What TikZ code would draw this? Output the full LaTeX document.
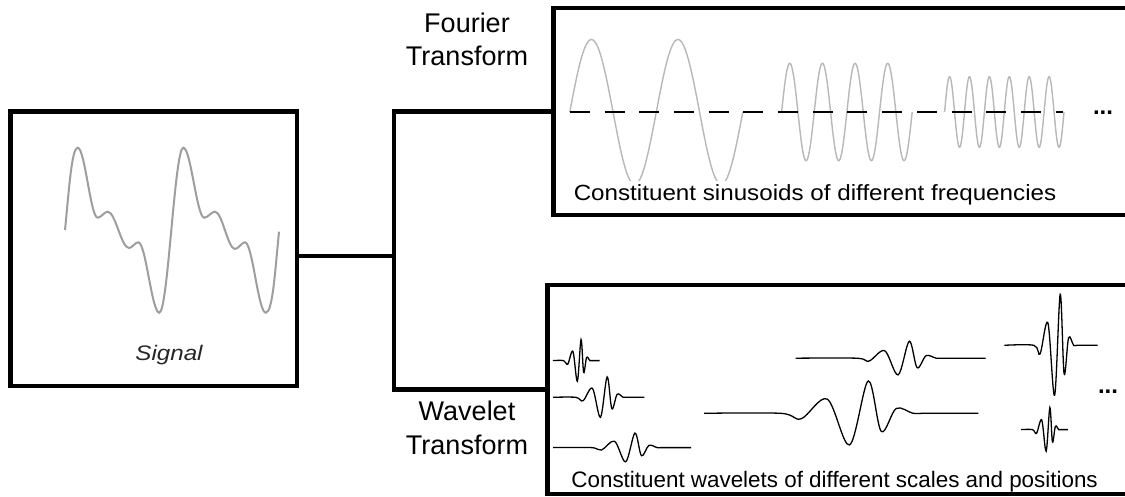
\documentclass[tikz,border=0pt]{standalone}
\usepackage{fontspec}
\setmainfont{Liberation Sans}
\usetikzlibrary{calc}
\definecolor{sinegray}{gray}{0.72}
\definecolor{siggray}{gray}{0.62}
\definecolor{txtdark}{gray}{0.15}
\newcommand{\wavelet}[6]{%
  \draw[wav] plot[smooth, tension=0.55] coordinates {(#5,#2) ({#1-4.2*#3},#2) ({#1-3.1*#3},{#2+0.17*#4}) ({#1-1.7*#3},{#2-0.44*#4}) ({#1-0.5*#3},{#2+0.98*#4}) ({#1+0.5*#3},{#2-1.0*#4}) ({#1+1.2*#3},{#2+0.56*#4}) ({#1+2.0*#3},{#2-0.15*#4}) ({#1+2.9*#3},#2) ({#1+3.6*#3},#2) (#6,#2)};}
\begin{document}
\begin{tikzpicture}[x=1pt,y=-1pt,
  box/.style={draw=black, line width=4.6pt, rectangle, inner sep=0pt, outer sep=0pt},
  conn/.style={draw=black, line width=4.6pt},
  sine/.style={draw=sinegray, line width=1.4pt},
  sig/.style={draw=siggray, line width=2pt},
  wav/.style={draw=black, line width=1.3pt},
  lbl/.style={inner sep=0pt, anchor=base, font=\fontsize{27}{32}\selectfont},
  dots/.style={inner sep=0pt, anchor=base, font=\fontsize{24}{28}\selectfont\bfseries},
]
\useasboundingbox (0,0) rectangle (1125,497);
\clip (0,0) rectangle (1125,497);
\fill[white] (0,0) rectangle (1125,497);

% boxes
\node[box, minimum width=286.5pt, minimum height=274.5pt] (signal) at (153.75,248.75) {};
\node[box, minimum width=586.7pt, minimum height=207pt] (fourier) at (846.65,111.5) {};
\node[box, minimum width=592.5pt, minimum height=209pt] (wavelet) at (843.75,389.5) {};

% connectors
\coordinate (j) at (394,256);
\coordinate (jt) at (394,111.5);
\coordinate (jb) at (394,389.5);
\draw[conn] (signal.east |- j) -- (j);
\draw[conn, line join=miter] (fourier.west) -- (jt) -- (jb) -- (wavelet.west);

% labels
\node[lbl] (ft1) at (467,33) {Fourier};
\node[lbl] (ft2) at (467,66) {Transform};
\node[lbl] (wt1) at (467,420) {Wavelet};
\node[lbl] (wt2) at (467,454) {Transform};

% signal
\draw[sig] (65,230) .. controls (69,190) and (71.7,147.7) .. (77.7,147.7)
  .. controls (84.9,147.7) and (90.5,217.7) .. (97.7,217.7)
  .. controls (101.3,217.7) and (104.1,211.7) .. (107.7,211.7)
  .. controls (115.4,211.7) and (121.3,248) .. (129,248)
  .. controls (132.35,248) and (134.95,242.3) .. (138.3,242.3)
  .. controls (145.86,242.3) and (151.74,312.7) .. (159.3,312.7)
  .. controls (167.94,312.7) and (174.66,147.7) .. (183.3,147.7)
  .. controls (190.86,147.7) and (196.74,217.7) .. (204.3,217.7)
  .. controls (208.15,217.7) and (211.15,211.7) .. (215,211.7)
  .. controls (222.2,211.7) and (227.8,249) .. (235,249)
  .. controls (238.6,249) and (241.4,242.3) .. (245,242.3)
  .. controls (252.45,242.3) and (258.25,312.7) .. (265.7,312.7)
  .. controls (272.7,312.7) and (275,271.7) .. (279,231.7);
\node[inner sep=0pt, anchor=base, text=txtdark] (siglbl) at (169,360) {\fontsize{21}{25}\selectfont\itshape\scalebox{1.15}[1]{Signal}};

% Fourier sinusoids
\begin{scope}
  \clip (560,0) rectangle (760,181);
  \draw[sine] plot[domain=569.8:742.8, samples=160] (\x, {112 - 72.5*sin((\x-569.8)/86.5*360)});
\end{scope}
\draw[sine] plot[domain=781.6:912.2, samples=200] (\x, {112 - 48.7*sin((\x-781.6)/32.65*360)});
\draw[sine] plot[domain=944.6:1064, samples=240] (\x, {112 - 35.3*sin((\x-944.6)/19.9*360)});
\draw[black, line width=1.3pt, dash pattern=on 20pt off 14.7pt] (569.8,112) -- (1063,112);
\node[dots] (fdots) at (1103,115) {...};
\node[inner sep=0pt, anchor=base] (fcap) at (815,201) {\fontsize{22}{26}\selectfont\scalebox{1.1}[1]{Constituent sinusoids of different frequencies}};

% wavelets
\wavelet{579.2}{360.6}{3.7}{21}{553}{599.7}
\wavelet{603.8}{397.3}{6.7}{20.4}{553}{644.4}
\wavelet{630.3}{447.6}{9.3}{14.5}{553}{691}
\wavelet{858.9}{413.3}{18.65}{32.3}{704}{978.3}
\wavelet{903.7}{358.2}{11.2}{17}{795.5}{985.7}
\wavelet{1057.4}{345.3}{5.6}{51}{1004.4}{1097.6}
\wavelet{1048}{429.6}{3.7}{22}{1021}{1067.8}
\node[dots] (wdots) at (1108,393) {...};
\node[inner sep=0pt, anchor=base] (wcap) at (834.6,487) {\fontsize{22.4}{26}\selectfont Constituent wavelets of different scales and positions};
\end{tikzpicture}
\end{document}
